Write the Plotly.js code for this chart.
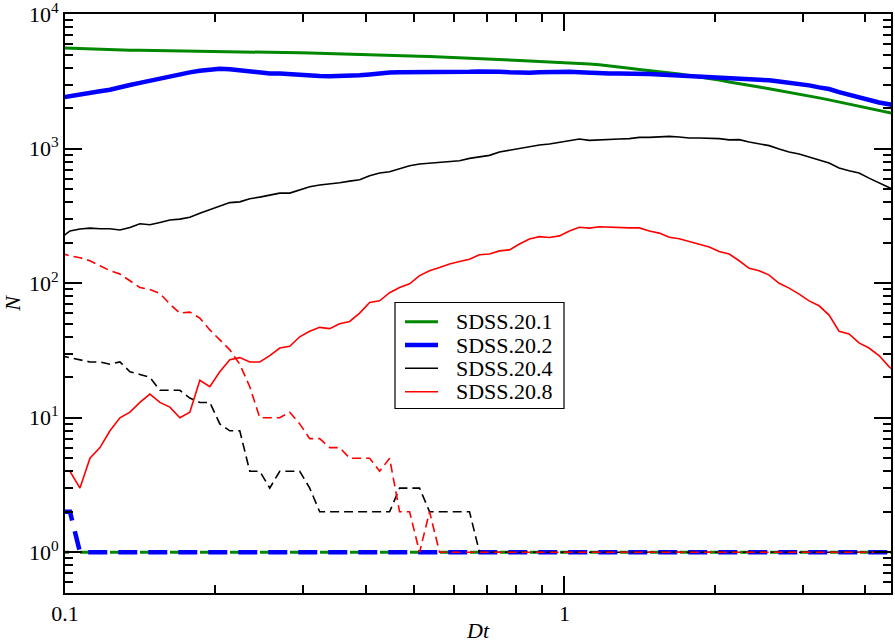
<!DOCTYPE html>
<html>
<head>
<meta charset="utf-8">
<script src="https://cdn.plot.ly/plotly-3.0.1.min.js"></script>
<style>html,body{margin:0;padding:0;background:#fff;}#chart{width:895px;height:643px;}</style>
</head>
<body>
<div id="chart"></div>
<script>
// Dt bin centres
const dt = [0.09772, 0.10233, 0.10715, 0.11220, 0.11749, 0.12303, 0.12882, 0.13490, 0.14125, 0.14791,
  0.15488, 0.16218, 0.16982, 0.17783, 0.18621, 0.19498, 0.20417, 0.21380, 0.22387, 0.23442,
  0.24547, 0.25704, 0.26915, 0.28184, 0.29512, 0.30903, 0.32359, 0.33884, 0.35481, 0.37154,
  0.38905, 0.40738, 0.42658, 0.44668, 0.46774, 0.48978, 0.51286, 0.53703, 0.56234, 0.58884,
  0.61660, 0.64565, 0.67608, 0.70795, 0.74131, 0.77625, 0.81283, 0.85114, 0.89125, 0.93325,
  0.97724, 1.02329, 1.07152, 1.12202, 1.17490, 1.23027, 1.28825, 1.34896, 1.41254, 1.47911,
  1.54882, 1.62181, 1.69824, 1.77828, 1.86209, 1.94984, 2.04174, 2.13796, 2.23872, 2.34423,
  2.45471, 2.57040, 2.69153, 2.81838, 2.95121, 3.09030, 3.23594, 3.38844, 3.54813, 3.71535,
  3.89045, 4.07380, 4.26580, 4.46684, 4.67735];

// SDSS.20.1 (solid)
const n201 = [5630, 5590, 5550, 5510, 5480, 5440, 5410, 5400, 5390, 5380,
  5370, 5360, 5350, 5330, 5320, 5310, 5300, 5290, 5270, 5250,
  5230, 5220, 5200, 5190, 5170, 5150, 5130, 5110, 5090, 5070,
  5050, 5030, 5010, 4980, 4950, 4920, 4880, 4850, 4820, 4780,
  4740, 4700, 4670, 4630, 4600, 4560, 4530, 4490, 4460, 4420,
  4380, 4340, 4300, 4260, 4220, 4150, 4070, 3970, 3890, 3820,
  3740, 3660, 3590, 3500, 3420, 3330, 3240, 3140, 3060, 2960,
  2880, 2790, 2710, 2630, 2540, 2470, 2390, 2310, 2230, 2160,
  2090, 2010, 1930, 1860, 1790];
// SDSS.20.2 (solid)
const n202 = [2390, 2470, 2540, 2610, 2680, 2750, 2880, 2980, 3090, 3210,
  3340, 3460, 3580, 3700, 3800, 3880, 3935, 3900, 3820, 3740,
  3660, 3630, 3620, 3570, 3530, 3500, 3480, 3467, 3470, 3490,
  3520, 3570, 3640, 3690, 3710, 3710, 3700, 3690, 3680, 3670,
  3690, 3730, 3760, 3775, 3740, 3700, 3670, 3680, 3700, 3720,
  3735, 3730, 3700, 3660, 3630, 3630, 3630, 3630, 3620, 3600,
  3560, 3530, 3500, 3480, 3460, 3420, 3390, 3360, 3340, 3320,
  3310, 3230, 3160, 3100, 3060, 2960, 2860, 2780, 2640, 2520,
  2400, 2300, 2210, 2140, 2080];
// SDSS.20.4 (solid)
const n204 = [215, 245, 253, 257, 254, 254, 249, 260, 277, 272,
  283, 295, 300, 310, 332, 352, 377, 398, 403, 425,
  437, 450, 468, 468, 493, 522, 538, 545, 559, 575,
  589, 630, 661, 675, 707, 748, 770, 783, 796, 811,
  815, 848, 868, 893, 946, 973, 1000, 1042, 1067, 1086,
  1116, 1140, 1183, 1155, 1169, 1169, 1183, 1189, 1216, 1216,
  1224, 1237, 1224, 1202, 1202, 1202, 1189, 1164, 1169, 1123,
  1091, 1055, 996, 946, 914, 863, 824, 783, 719, 687,
  661, 605, 562, 515, 475];
// SDSS.20.8 (solid)
const n208 = [4, 4, 3, 5, 6, 8, 10, 11, 13, 15,
  13, 12, 10, 11, 19, 17, 22, 27, 28, 26,
  26, 29, 33, 34, 40, 44, 47, 46, 50, 52,
  60, 72, 74, 85, 93, 99, 114, 124, 131, 139,
  145, 151, 163, 165, 174, 177, 196, 213, 222, 219,
  225, 245, 261, 257, 263, 261, 258, 258, 258, 245,
  236, 220, 214, 204, 196, 186, 172, 165, 147, 129,
  124, 115, 100, 92, 83, 74, 68, 58, 44, 42,
  36, 33, 29, 24, 21];

// dashed companions
const d201 = [1, 1, 1, 1, 1, 1, 1, 1, 1, 1,
  1, 1, 1, 1, 1, 1, 1, 1, 1, 1,
  1, 1, 1, 1, 1, 1, 1, 1, 1, 1,
  1, 1, 1, 1, 1, 1, 1, 1, 1, 1,
  1, 1, 1, 1, 1, 1, 1, 1, 1, 1,
  1, 1, 1, 1, 1, 1, 1, 1, 1, 1,
  1, 1, 1, 1, 1, 1, 1, 1, 1, 1,
  1, 1, 1, 1, 1, 1, 1, 1, 1, 1,
  1, 1, 1, 1, 1];
const d202 = [2, 2, 1, 1, 1, 1, 1, 1, 1, 1,
  1, 1, 1, 1, 1, 1, 1, 1, 1, 1,
  1, 1, 1, 1, 1, 1, 1, 1, 1, 1,
  1, 1, 1, 1, 1, 1, 1, 1, 1, 1,
  1, 1, 1, 1, 1, 1, 1, 1, 1, 1,
  1, 1, 1, 1, 1, 1, 1, 1, 1, 1,
  1, 1, 1, 1, 1, 1, 1, 1, 1, 1,
  1, 1, 1, 1, 1, 1, 1, 1, 1, 1,
  1, 1, 1, 1, 1];
const d204 = [29, 28, 27, 26, 26, 25, 26, 22, 21, 20,
  16, 16, 16, 14, 13, 13, 9, 8, 8, 4,
  4, 3, 4, 4, 4, 3, 2, 2, 2, 2,
  2, 2, 2, 2, 3, 3, 3, 2, 2, 2,
  2, 2, 1, 1, 1, 1, 1, 1, 1, 1,
  1, 1, 1, 1, 1, 1, 1, 1, 1, 1,
  1, 1, 1, 1, 1, 1, 1, 1, 1, 1,
  1, 1, 1, 1, 1, 1, 1, 1, 1, 1,
  1, 1, 1, 1, 1];
const d208 = [168, 160, 155, 147, 135, 124, 117, 105, 93, 90,
  84, 70, 60, 61, 55, 45, 38, 32, 25, 17,
  10, 10, 10, 11, 9, 7, 7, 6, 6, 5,
  5, 5, 4, 5, 2, 2, 1, 2, 1, 1,
  1, 1, 1, 1, 1, 1, 1, 1, 1, 1,
  1, 1, 1, 1, 1, 1, 1, 1, 1, 1,
  1, 1, 1, 1, 1, 1, 1, 1, 1, 1,
  1, 1, 1, 1, 1, 1, 1, 1, 1, 1,
  1, 1, 1, 1, 1];

const names = ['SDSS.20.1', 'SDSS.20.2', 'SDSS.20.4', 'SDSS.20.8'];
const xTickVals = [0.1, 1];
const xTickText = ['0.1', '1'];
const xMinorVals = [0.2, 0.3, 0.4, 0.5, 0.6, 0.7, 0.8, 0.9, 2, 3, 4];
const yTickVals = [1, 10, 100, 1000, 10000];
const yTickText = ['10<sup>0</sup>', '10<sup>1</sup>', '10<sup>2</sup>', '10<sup>3</sup>', '10<sup>4</sup>'];

const colors = ['#008800', '#0000ff', '#000000', '#ff0000'];
const solidW = [3, 4.5, 1.6, 1.6];
const dashedY = [d201, d202, d204, d208];
const solidY = [n201, n202, n204, n208];
const dashW = [3, 4.5, 1.6, 1.6];
const dashPat = ['9px,11px,10px,0px', '19px,11px', '9px,5px', '9px,5px'];

const traces = [];
for (let i = 0; i < 4; i++) {
  traces.push({x: dt, y: dashedY[i], type: 'scatter', mode: 'lines', showlegend: false,
    line: {color: colors[i], width: dashW[i], dash: dashPat[i]}});
}
for (let i = 0; i < 4; i++) {
  traces.push({x: dt, y: solidY[i], type: 'scatter', mode: 'lines', name: names[i], showlegend: false,
    line: {color: colors[i], width: solidW[i]}});
}

const serif = 'Liberation Serif';

// hand-built legend (paper coordinates)
const plotL = 65, plotT = 14, plotW = 826, plotH = 579;
const px2x = p => (p - plotL) / plotW;
const px2y = p => 1 - (p - plotT) / plotH;
const legRows = [321.7, 345, 368.3, 391.7];
const shapes = [{type: 'rect', xref: 'paper', yref: 'paper', layer: 'above',
  x0: px2x(395), x1: px2x(564), y0: px2y(408.5), y1: px2y(302.5),
  line: {color: '#000', width: 1.2}, fillcolor: '#fff'}];
const annotations = [];
for (let i = 0; i < 4; i++) {
  shapes.push({type: 'line', xref: 'paper', yref: 'paper', layer: 'above',
    x0: px2x(405), x1: px2x(438), y0: px2y(legRows[i]), y1: px2y(legRows[i]),
    line: {color: colors[i], width: solidW[i]}});
  annotations.push({xref: 'paper', yref: 'paper', x: px2x(454), y: px2y(legRows[i]),
    xanchor: 'left', yanchor: 'middle', showarrow: false, text: names[i],
    font: {family: serif, size: 22, color: '#000'}});
}

const layout = {
  width: 895, height: 643,
  margin: {l: 65, r: 4, t: 14, b: 50},
  font: {family: serif, color: '#000'},
  showlegend: false,
  shapes: shapes, annotations: annotations,
  xaxis: {
    type: 'log', range: [-1, 0.654], showline: true, linewidth: 2, linecolor: '#000', mirror: 'ticks',
    ticks: 'inside', ticklen: 17, tickwidth: 1.5, tickcolor: '#000',
    showgrid: false, zeroline: false, ticklabeloverflow: 'allow',
    tickmode: 'array', tickvals: xTickVals, ticktext: xTickText,
    tickfont: {family: serif, size: 22, color: '#000'},
    minor: {ticks: 'inside', ticklen: 8, tickwidth: 1.5, tickcolor: '#000', tickmode: 'array', tickvals: xMinorVals, showgrid: false},
    title: {text: '<i>Dt</i>', font: {family: serif, size: 22, color: '#000'}, standoff: 4}
  },
  yaxis: {
    type: 'log', range: [-0.303, 4.002], showline: true, linewidth: 2, linecolor: '#000', mirror: 'ticks',
    ticks: 'inside', ticklen: 17, tickwidth: 1.5, tickcolor: '#000',
    showgrid: false, zeroline: false, ticklabeloverflow: 'allow',
    tickmode: 'array', tickvals: yTickVals, ticktext: yTickText,
    tickfont: {family: serif, size: 22, color: '#000'},
    minor: {ticks: 'inside', ticklen: 8, tickwidth: 1.5, tickcolor: '#000', dtick: 'D1', showgrid: false},
    title: {text: '<i>N</i>', font: {family: serif, size: 22, color: '#000'}, standoff: 6}
  }
};

Plotly.newPlot('chart', traces, layout, {displayModeBar: false});
</script>
</body>
</html>
